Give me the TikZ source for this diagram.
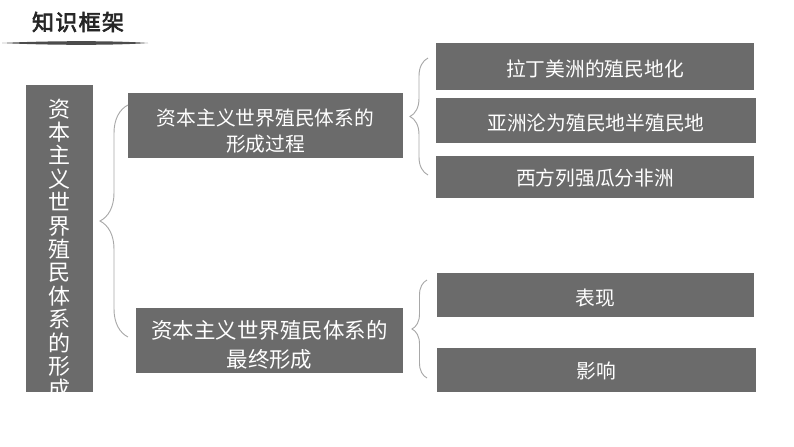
\documentclass[tikz,border=0pt]{standalone}
\usepackage{fontspec}
\setmainfont{Noto Sans CJK SC}
\newfontfamily\titlefont[FakeBold=3,LetterSpace=6]{Noto Sans CJK SC}
\usetikzlibrary{decorations.pathreplacing}
\definecolor{boxgray}{HTML}{6B6B6B}
\definecolor{bracegray}{HTML}{A8A8A8}
\tikzset{
  box/.style={fill=boxgray, inner sep=0pt},
  boxtxt/.style={text=white, inner sep=0pt, align=center,
    font=\fontsize{14.8}{19.5}\selectfont},
  brc/.style={draw=bracegray, line width=0.7pt, decorate,
    decoration={brace, amplitude=#1}},
}
\begin{document}
\begin{tikzpicture}[x=0.75pt, y=-0.75pt]
  \useasboundingbox (0,0) rectangle (794,447);
  % Başlık
  \node[font=\titlefont\fontsize{16.5}{16.5}\selectfont, text=black!85, inner sep=0pt] (title) at (78,22) {知识框架};
  \fill[black!70] (2,43) .. controls (40,41) and (110,40.2) .. (148,43)
    .. controls (110,45.8) and (40,45) .. (2,43);
  % Sol dikey kutu
  \node[box, minimum width=50.25pt, minimum height=230.25pt] (sys) at (59.5,238.5) {};
  \begin{scope}
    \clip (sys.south west) rectangle (sys.north east);
    \node[boxtxt, font=\fontsize{16.5}{17.55}\selectfont, anchor=north] (systxt) at (59.5,98.5)
      {资\\本\\主\\义\\世\\界\\殖\\民\\体\\系\\的\\形\\成};
  \end{scope}
  % Orta kutular
  \node[box, minimum width=206.25pt, minimum height=48.75pt] (proc) at (265.5,125.5) {};
  \node[boxtxt] (proctxt) at ([yshift=-4.5pt]proc.center) {资本主义世界殖民体系的\\形成过程};
  \node[box, minimum width=200.25pt, minimum height=48.75pt] (final) at (269.5,340.5) {};
  \node[boxtxt, font=\fontsize{16.1}{21.75}\selectfont] (finaltxt) at ([yshift=-3pt]final.center) {资本主义世界殖民体系的\\最终形成};
  % Sağ kutular
  \node[box, minimum width=238.5pt, minimum height=35.25pt] (latam) at (595,66.5) {};
  \node[boxtxt] (latamtxt) at ([yshift=-1.5pt]latam.center) {拉丁美洲的殖民地化};
  \node[box, minimum width=240pt, minimum height=33.75pt] (asia) at (596,120.5) {};
  \node[boxtxt] (asiatxt) at ([yshift=-1.5pt]asia.center) {亚洲沦为殖民地半殖民地};
  \node[box, minimum width=238.5pt, minimum height=31.5pt] (africa) at (595,177) {};
  \node[boxtxt] (africatxt) at ([yshift=-0.75pt]africa.center) {西方列强瓜分非洲};
  \node[box, minimum width=237.75pt, minimum height=33pt] (show) at (595.5,295) {};
  \node[boxtxt] (showtxt) at ([yshift=-2pt]show.center) {表现};
  \node[box, minimum width=239.25pt, minimum height=33pt] (effect) at (596.5,370) {};
  \node[boxtxt] (effecttxt) at ([yshift=-1pt]effect.center) {影响};
  % Parantezler
  \coordinate (b1s) at (128,337);
  \coordinate (b1e) at (128,105);
  \coordinate (b2s) at (428,175);
  \coordinate (b2e) at (428,58);
  \coordinate (b3s) at (427,378);
  \coordinate (b3e) at (427,280);
  \draw[brc=21pt] (b1s) -- (b1e);
  \draw[brc=13.5pt] (b2s) -- (b2e);
  \draw[brc=11.25pt] (b3s) -- (b3e);
\end{tikzpicture}
\end{document}
